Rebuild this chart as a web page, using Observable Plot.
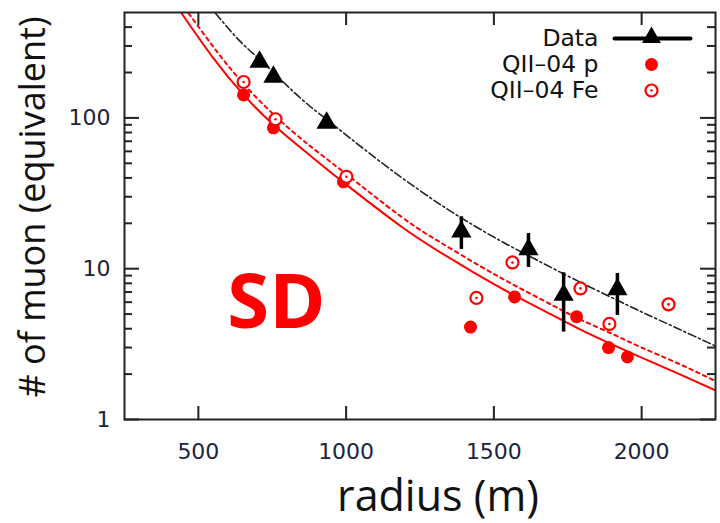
<!DOCTYPE html>
<html><head><meta charset="utf-8">
<script src="https://cdn.jsdelivr.net/npm/d3@7"></script>
<script src="https://cdn.jsdelivr.net/npm/@observablehq/plot@0.6"></script>
<style>html,body{margin:0;padding:0;background:#fff;} #chart{width:720px;height:523px;}</style>
</head><body><div id="chart"></div>
<script>
// ---- data ----
const xTicks = [500, 1000, 1500, 2000];
const yMajor = [1, 10, 100];
const yMinor = [2,3,4,5,6,7,8,9,20,30,40,50,60,70,80,90,200,300,400];

// Data (black triangles) with error bars
const dataR  = [707, 754, 934, 1390, 1617, 1736, 1918];
const dataMu = [235, 187, 92.7, 17.6, 13.4, 6.7, 7.3];
const errR   = [1390, 1617, 1736, 1918];
const errLo  = [13.4, 10.2, 3.8, 4.9];
const errHi  = [22.1, 17.1, 9.4, 9.3];

// QII-04 p (filled red)
const pR  = [653, 754, 991, 1421, 1570, 1780, 1888, 1952];
const pMu = [142, 86, 37.7, 4.1, 6.5, 4.8, 3.0, 2.6];
// QII-04 Fe (open red)
const feR  = [653, 761, 1001, 1441, 1563, 1793, 1891, 2091];
const feMu = [173, 98, 40.7, 6.4, 11.0, 7.4, 4.3, 5.8];

// curves
const pCurveR  = [443, 550, 653, 760, 870, 990, 1184, 1320, 1450, 1573, 1700, 1793, 1900, 2000, 2120, 2250];
const pCurveV  = [494, 250, 142, 88, 58, 37.5, 19.2, 12.8, 9.0, 6.6, 4.9, 3.95, 3.15, 2.57, 2.03, 1.56];
const feCurveR = [467, 560, 653, 760, 870, 990, 1184, 1320, 1450, 1573, 1700, 1793, 1900, 2000, 2120, 2250];
const feCurveV = [494, 280, 168, 103, 67, 44, 22.3, 14.9, 10.5, 7.7, 5.7, 4.6, 3.7, 3.0, 2.37, 1.8];
const dCurveR  = [558, 640, 707, 754, 846, 934, 1100, 1262, 1390, 1520, 1624, 1760, 1918, 2013, 2120, 2250];
const dCurveV  = [494, 324, 245, 200, 135, 97.7, 54.1, 31.7, 21.7, 15.4, 12.0, 8.75, 6.17, 5.03, 4.03, 3.07];

const legendLabels = ["Data", "QII–04 p", "QII–04 Fe"];
const xTitle = "radius (m)";
const yTitle = "# of muon (equivalent)";
const stamp = "SD";
const stampR = 764, stampV = 5.9;

// ---- build ----
const W = 720, H = 523, mL = 124, mR = 5, mT = 12, mB = 104;
const fw = W - mL - mR, fh = H - mT - mB;
const RED = "#ff0000", INK = "#222", LAB = "#1b2440";

const toPts = (R, V) => R.map((r, i) => ({r, v: V[i]}));
const dataPts = toPts(dataR, dataMu);
const errPts = errR.map((r, i) => ({r, lo: errLo[i], hi: errHi[i]}));
const pPts = toPts(pR, pMu);
const fePts = toPts(feR, feMu);

const hline = {draw(ctx, l) { ctx.moveTo(-l / 2, 0); ctx.lineTo(l / 2, 0); }};
const sans = "'DejaVu Sans', 'Liberation Sans', Arial, sans-serif";
const titleFont = "'Open Sans', 'Noto Sans', sans-serif";

// legend marks (positioned relative to the frame's top-right corner)
const legX = -64, legTextX = -117, legY0 = 26, legStep = 26;
const legendMarks = [
  ...legendLabels.map((lab, i) => Plot.text([lab], {frameAnchor: "top-right", dx: legTextX, dy: legY0 + legStep * i,
      text: d => d, textAnchor: "end", lineAnchor: "middle", fontSize: 23.5, fill: "#111"})),
  Plot.vector([0], {frameAnchor: "top-right", dx: legX + 1, dy: legY0, length: 76, rotate: 0, anchor: "start",
      shape: hline, stroke: "#000", strokeWidth: 4}),
  Plot.dot([0], {frameAnchor: "top-right", dx: legX, dy: legY0 - 1, symbol: "triangle", r: 7, fill: "#000"}),
  Plot.dot([0], {frameAnchor: "top-right", dx: legX, dy: legY0 + legStep, r: 6.5, fill: RED}),
  Plot.dot([0], {frameAnchor: "top-right", dx: legX, dy: legY0 + 2 * legStep, r: 6, fill: "#fff", stroke: RED, strokeWidth: 2.2}),
  Plot.dot([0], {frameAnchor: "top-right", dx: legX, dy: legY0 + 2 * legStep, r: 1.3, fill: RED})
];

const chart = Plot.plot({
  width: W, height: H,
  marginLeft: mL, marginRight: mR, marginTop: mT, marginBottom: mB,
  style: {fontFamily: sans, fontSize: "22px", background: "#fff", color: INK},
  x: {type: "linear", domain: [250, 2250]},
  y: {type: "log", domain: [1, 500]},
  marks: [
    // ticks (inward)
    Plot.tickY(yMajor, {y: d => d, stroke: INK, strokeWidth: 2, insetRight: fw - 15}),
    Plot.tickY(yMajor, {y: d => d, stroke: INK, strokeWidth: 2, insetLeft: fw - 15}),
    Plot.tickY(yMinor, {y: d => d, stroke: INK, strokeWidth: 2, insetRight: fw - 8}),
    Plot.tickY(yMinor, {y: d => d, stroke: INK, strokeWidth: 2, insetLeft: fw - 8}),
    Plot.tickX(xTicks, {x: d => d, stroke: INK, strokeWidth: 2, insetTop: fh - 13}),
    Plot.tickX(xTicks, {x: d => d, stroke: INK, strokeWidth: 2, insetBottom: fh - 13}),
    Plot.axisX(xTicks, {tickSize: 0, tickPadding: 24, tickFormat: d => String(d), fill: LAB, fontSize: 22, label: null}),
    Plot.axisY(yMajor, {tickSize: 0, tickPadding: 14, tickFormat: d => String(d), fill: LAB, fontSize: 22, label: null}),
    // curves
    Plot.line(toPts(dCurveR, dCurveV), {x: "r", y: "v", curve: "natural", stroke: INK, strokeWidth: 1.6, strokeDasharray: "8,3,2,3", clip: true}),
    Plot.line(toPts(feCurveR, feCurveV), {x: "r", y: "v", curve: "natural", stroke: RED, strokeWidth: 2, strokeDasharray: "3.5,4", clip: true}),
    Plot.line(toPts(pCurveR, pCurveV), {x: "r", y: "v", curve: "natural", stroke: RED, strokeWidth: 2, clip: true}),
    // points
    Plot.ruleX(errPts, {x: "r", y1: "lo", y2: "hi", stroke: "#000", strokeWidth: 3.5}),
    Plot.dot(dataPts, {x: "r", y: "v", symbol: "triangle", r: 7.5, fill: "#000"}),
    Plot.dot(pPts, {x: "r", y: "v", r: 6.5, fill: RED}),
    Plot.dot(fePts, {x: "r", y: "v", r: 6, fill: "#fff", stroke: RED, strokeWidth: 2.2}),
    Plot.dot(fePts, {x: "r", y: "v", r: 1.3, fill: RED}),
    // frame
    Plot.frame({stroke: INK, strokeWidth: 2}),
    ...legendMarks,
    // SD stamp
    Plot.text([stamp], {x: () => stampR, y: () => stampV, text: d => d, fill: RED, fontSize: 76, fontWeight: "bold", fontFamily: titleFont}),
    // titles
    Plot.text([xTitle], {frameAnchor: "bottom", dx: 18, dy: 78, text: d => d, textAnchor: "middle", lineAnchor: "middle", fontSize: 43, fontFamily: titleFont, fill: "#111"}),
    Plot.text([yTitle], {frameAnchor: "left", dx: -91, dy: -9, rotate: -90, text: d => d, textAnchor: "middle", lineAnchor: "middle", fontSize: 36, fontFamily: titleFont, fill: "#111"})
  ]
});
document.getElementById("chart").appendChild(chart);
</script></body></html>
